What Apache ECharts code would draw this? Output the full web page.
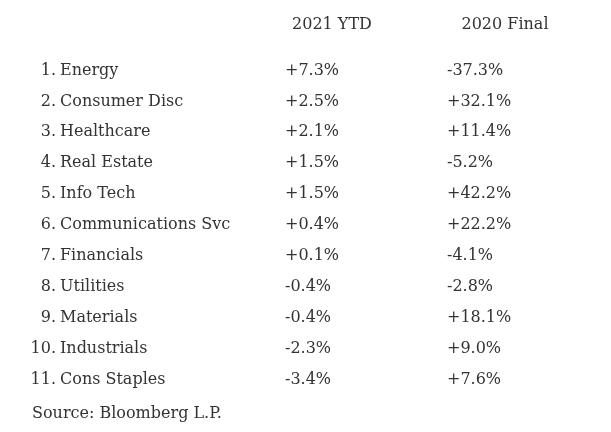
<!DOCTYPE html>
<html>
<head>
<meta charset="utf-8">
<script src="https://cdn.jsdelivr.net/npm/echarts@6/dist/echarts.min.js"></script>
<style>html,body{margin:0;padding:0;background:#fff}#c{width:611px;height:432px}</style>
</head>
<body>
<div id="c"></div>
<script>
var ranks = ["1.", "2.", "3.", "4.", "5.", "6.", "7.", "8.", "9.", "10.", "11."];
var sectors = ["Energy", "Consumer Disc", "Healthcare", "Real Estate", "Info Tech", "Communications Svc", "Financials", "Utilities", "Materials", "Industrials", "Cons Staples"];
var columns = ["2021 YTD", "2020 Final"];
var ytd2021 = [7.3, 2.5, 2.1, 1.5, 1.5, 0.4, 0.1, -0.4, -0.4, -2.3, -3.4];
var final2020 = [-37.3, 32.1, 11.4, -5.2, 42.2, 22.2, -4.1, -2.8, 18.1, 9.0, 7.6];
var source = "Source: Bloomberg L.P.";

var FONT = "DejaVu Serif";
var COLOR = "#333333";
var FS = 16;

function fmt(p) {
  var v = p.value[2];
  return (v >= 0 ? "+" : "") + v.toFixed(1) + "%";
}
function build(col, arr) {
  return arr.map(function (v, i) { return [col, i, v]; });
}

var chart = echarts.init(document.getElementById("c"));
chart.setOption({
  animation: false,
  backgroundColor: "#ffffff",
  title: {
    text: source,
    left: 27,
    top: 401,
    textStyle: { fontFamily: FONT, fontSize: FS, fontWeight: "normal", color: COLOR }
  },
  grid: { left: 245.5, right: 19.5, top: 55, bottom: 37 },
  xAxis: {
    type: "category",
    position: "top",
    data: columns,
    axisLine: { show: false },
    axisTick: { show: false },
    splitLine: { show: false },
    axisLabel: { margin: 22, fontFamily: FONT, fontSize: FS, color: COLOR }
  },
  yAxis: [
    {
      type: "category",
      inverse: true,
      data: ranks,
      position: "left",
      axisLine: { show: false },
      axisTick: { show: false },
      splitLine: { show: false },
      axisLabel: { align: "right", margin: 189.5, fontFamily: FONT, fontSize: FS, color: COLOR }
    },
    {
      type: "category",
      inverse: true,
      data: sectors,
      position: "left",
      offset: 0,
      axisLine: { show: false },
      axisTick: { show: false },
      splitLine: { show: false },
      axisLabel: { align: "left", margin: 185.5, fontFamily: FONT, fontSize: FS, color: COLOR }
    }
  ],
  series: [
    {
      type: "scatter",
      yAxisIndex: 1,
      symbolSize: 1,
      itemStyle: { color: "rgba(255,255,255,0)", opacity: 1 },
      data: build(0, ytd2021),
      label: {
        show: true, position: "inside", align: "left", offset: [-47, 0],
        formatter: fmt, fontFamily: FONT, fontSize: FS, color: COLOR
      }
    },
    {
      type: "scatter",
      yAxisIndex: 1,
      symbolSize: 1,
      itemStyle: { color: "rgba(255,255,255,0)", opacity: 1 },
      data: build(1, final2020),
      label: {
        show: true, position: "inside", align: "left", offset: [-58, 0],
        formatter: fmt, fontFamily: FONT, fontSize: FS, color: COLOR
      }
    }
  ]
});
</script>
</body>
</html>
